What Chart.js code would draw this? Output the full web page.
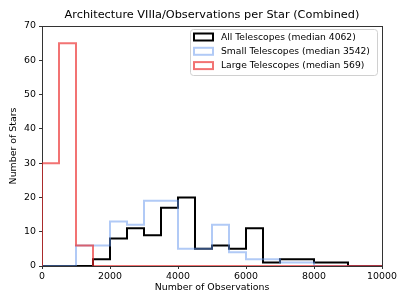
<!DOCTYPE html>
<html>
<head>
<meta charset="utf-8">
<script src="https://cdn.jsdelivr.net/npm/chart.js@4"></script>
<style>
html, body { margin: 0; padding: 0; background: #fff; }
#wrap { width: 407px; height: 305px; }
</style>
</head>
<body>
<div id="wrap"><canvas id="chart" width="407" height="305"></canvas></div>
<script>
// histogram bins: left edges, width 500
const binEdges = [0, 500, 1000, 1500, 2000, 2500, 3000, 3500, 4000, 4500,
                  5000, 5500, 6000, 6500, 7000, 7500, 8000, 8500, 9000, 9500];
const binEnd = 10000;

// number of stars per bin
const allCounts   = [0, 0, 0, 2, 8, 11, 9, 17, 20, 5, 6, 5, 11, 1, 2, 2, 1, 1, 0, 0];
const smallCounts = [0, 0, 6, 6, 13, 12, 19, 19, 5, 5, 12, 4, 2, 2, 1, 1, 0, 0, 0, 0];
const largeCounts = [30, 65, 6, 0, 0, 0, 0, 0, 0, 0, 0, 0, 0, 0, 0, 0, 0, 0, 0, 0];

const seriesLabels = [
    'All Telescopes (median 4062)',
    'Small Telescopes (median 3542)',
    'Large Telescopes (median 569)'
];

const xTicks = [0, 2000, 4000, 6000, 8000, 10000];
const yTicks = [0, 10, 20, 30, 40, 50, 60, 70];

const FONT = 'DejaVu Sans';

// step outline like matplotlib histtype='step'
function stepPoints(counts) {
    const pts = [{ x: binEdges[0], y: 0 }];
    counts.forEach((c, i) => pts.push({ x: binEdges[i], y: c }));
    pts.push({ x: binEnd, y: 0 });
    return pts;
}

function histDataset(label, counts, color, order) {
    return {
        label: label,
        data: stepPoints(counts),
        borderColor: color,
        backgroundColor: 'transparent',
        borderWidth: 2,
        stepped: 'before',
        pointRadius: 0,
        fill: false,
        borderJoinStyle: 'miter',
        order: order
    };
}

// axes frame (all four spines)
const framePlugin = {
    id: 'frame',
    beforeDatasetsDraw(chart) {
        const { ctx, chartArea: a } = chart;
        ctx.save();
        ctx.strokeStyle = '#333';
        ctx.lineWidth = 1;
        ctx.strokeRect(Math.round(a.left) + 0.5, Math.round(a.top) + 0.5,
                       Math.round(a.right - a.left), Math.round(a.bottom - a.top));
        ctx.restore();
    }
};

// matplotlib style legend box in upper right
const legendPlugin = {
    id: 'mplLegend',
    afterDraw(chart) {
        const ctx = chart.ctx;
        const a = chart.chartArea;
        const w = 187, h = 46;
        const x0 = a.right - 5 - w, y0 = a.top + 3;
        ctx.save();
        ctx.fillStyle = 'rgba(255,255,255,0.8)';
        ctx.strokeStyle = '#d0d0d0';
        ctx.lineWidth = 1;
        ctx.beginPath();
        ctx.roundRect(x0 + 0.5, y0 + 0.5, w, h, 3);
        ctx.fill();
        ctx.stroke();
        chart.data.datasets.forEach((ds, i) => {
            const cy = y0 + 8 + i * 14.3;
            ctx.strokeStyle = ds.borderColor;
            ctx.lineWidth = ds.borderWidth;
            ctx.lineJoin = 'miter';
            ctx.strokeRect(x0 + 4, cy - 3.5, 19, 7);
            ctx.fillStyle = '#000';
            ctx.font = '9.2px "' + FONT + '"';
            ctx.textBaseline = 'middle';
            ctx.textAlign = 'left';
            ctx.fillText(ds.label, x0 + 31, cy + 0.5);
        });
        ctx.restore();
    }
};

const tickFont = { family: FONT, size: 9.4 };

new Chart(document.getElementById('chart').getContext('2d'), {
    type: 'line',
    data: {
        datasets: [
            histDataset(seriesLabels[0], allCounts, '#000000', 2),
            histDataset(seriesLabels[1], smallCounts, 'rgba(100,149,237,0.5)', 1),
            histDataset(seriesLabels[2], largeCounts, 'rgba(235,40,40,0.65)', 0)
        ]
    },
    options: {
        responsive: false,
        animation: false,
        layout: { padding: { left: 0, right: 25, top: 0, bottom: 0 } },
        plugins: {
            legend: { display: false },
            tooltip: { enabled: false }
        },
        scales: {
            // top axis only carries the title, centred over the plot area
            top: {
                type: 'linear',
                position: 'top',
                min: 0,
                max: binEnd,
                afterFit(s) { s.height = 26; },
                ticks: { display: false },
                grid: { display: false },
                border: { display: false },
                title: {
                    display: true,
                    text: 'Architecture VIIIa/Observations per Star (Combined)',
                    color: '#000',
                    font: { family: FONT, size: 11.3, weight: 'normal' },
                    padding: { top: 8, bottom: 0 }
                }
            },
            x: {
                type: 'linear',
                position: 'bottom',
                min: 0,
                max: binEnd,
                afterFit(s) { s.height = 39; },
                afterBuildTicks(s) { s.ticks = xTicks.map(v => ({ value: v })); },
                ticks: {
                    autoSkip: false,
                    maxRotation: 0,
                    color: '#000',
                    font: tickFont,
                    padding: 2,
                    callback: v => String(v)
                },
                grid: { drawOnChartArea: false, drawTicks: true, tickLength: 3, color: '#333' },
                border: { display: false },
                title: {
                    display: true,
                    text: 'Number of Observations',
                    color: '#000',
                    font: tickFont,
                    padding: { top: 0, bottom: 12 }
                }
            },
            y: {
                min: 0,
                max: 70,
                afterFit(s) { s.width = 42; },
                afterBuildTicks(s) { s.ticks = yTicks.map(v => ({ value: v })); },
                ticks: {
                    color: '#000',
                    font: tickFont,
                    padding: 3,
                    callback: v => String(v)
                },
                grid: { drawOnChartArea: false, drawTicks: true, tickLength: 3, color: '#333' },
                border: { display: false },
                title: {
                    display: true,
                    text: 'Number of Stars',
                    color: '#000',
                    font: tickFont,
                    padding: { top: 8, bottom: 0 }
                }
            }
        }
    },
    plugins: [framePlugin, legendPlugin]
});
</script>
</body>
</html>
